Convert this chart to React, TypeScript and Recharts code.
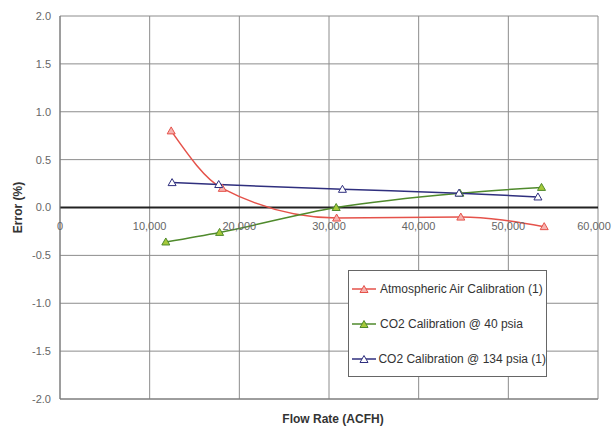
import React from 'react';
import { LineChart, Line, XAxis, YAxis, CartesianGrid, ReferenceLine, Legend, Label } from 'recharts';

const xTicks = [0, 10000, 20000, 30000, 40000, 50000, 60000];
const yTicks = [-2, -1.5, -1, -0.5, 0, 0.5, 1, 1.5, 2];

const airFlow = [12400, 18100, 30850, 44700, 54000];
const airError = [0.8, 0.2, -0.11, -0.1, -0.2];
const co2LowFlow = [11800, 17800, 30800, 44600, 53700];
const co2LowError = [-0.36, -0.26, 0.0, 0.15, 0.21];
const co2HighFlow = [12500, 17700, 31500, 44500, 53300];
const co2HighError = [0.26, 0.24, 0.19, 0.15, 0.11];

const seriesNames = [
  'Atmospheric Air Calibration (1)',
  'CO2 Calibration @ 40 psia',
  'CO2 Calibration @ 134 psia (1)',
];

const toPoints = (xs: number[], ys: number[]) => xs.map((x, i) => ({ flow: x, error: ys[i] }));

const series = [
  { name: seriesNames[0], data: toPoints(airFlow, airError), stroke: '#e5524a', fill: '#f7b3b0' },
  { name: seriesNames[1], data: toPoints(co2LowFlow, co2LowError), stroke: '#4f8a2c', fill: '#a6c93a' },
  { name: seriesNames[2], data: toPoints(co2HighFlow, co2HighError), stroke: '#2f2f7e', fill: '#ffffff' },
];

const W = 614;
const H = 426;
const TOP = 16;
const X_AXIS_H = 27;
const ZERO_Y = TOP + (H - TOP - X_AXIS_H) / 2;
const FONT = '"Liberation Sans", Arial, sans-serif';

function triangle(cx: number, cy: number) {
  return `M${cx},${cy - 4} L${cx + 4},${cy + 3} L${cx - 4},${cy + 3} Z`;
}

const makeDot = (stroke: string, fill: string) => (props: any) => {
  const { cx, cy, index } = props;
  if (cx == null || cy == null) return <g key={index} />;
  return <path key={index} d={triangle(cx, cy)} stroke={stroke} strokeWidth={1} fill={fill} />;
};

const XTick = (props: any) => {
  const { x, payload } = props;
  return (
    <text x={x} y={ZERO_Y + 19} dy="0.35em" textAnchor="middle" fill="#666" fontSize={11} fontFamily={FONT}>
      {Number(payload.value).toLocaleString('en-US')}
    </text>
  );
};

const LegendBox = () => (
  <div
    style={{
      border: '1px solid #666',
      background: '#fff',
      fontFamily: FONT,
      fontSize: 12,
      color: '#333',
      boxSizing: 'border-box',
      width: '100%',
      height: '100%',
      paddingTop: 0,
    }}
  >
    {series.map((s) => (
      <div key={s.name} style={{ height: 35, display: 'flex', alignItems: 'center' }}>
        <svg width={28} height={12} style={{ marginLeft: 3 }}>
          <line x1={0} y1={6} x2={24} y2={6} stroke={s.stroke} strokeWidth={1.5} />
          <path d={triangle(12, 6.5)} stroke={s.stroke} fill={s.fill} />
        </svg>
        <span style={{ whiteSpace: 'nowrap' }}>{s.name}</span>
      </div>
    ))}
  </div>
);

export default function App() {
  return (
    <div style={{ position: 'absolute', left: 0, top: 0, background: '#fff' }}>
      <LineChart width={W} height={H} margin={{ top: TOP, right: 16, bottom: 0, left: 0 }}>
        <CartesianGrid stroke="#8c8c8c" strokeWidth={1} />
        <XAxis
          dataKey="flow"
          type="number"
          domain={[0, 60000]}
          ticks={xTicks}
          height={X_AXIS_H}
          axisLine={{ stroke: '#777' }}
          tickLine={false}
          tick={<XTick />}
          allowDuplicatedCategory={false}
        >
          <Label
            content={(p: any) => {
              const vb = p.viewBox;
              return (
                <text
                  x={vb.x + vb.width / 2 + 4}
                  y={419}
                  dy="0.35em"
                  textAnchor="middle"
                  fontFamily={FONT}
                  fontSize={12}
                  fontWeight="bold"
                  fill="#333"
                >
                  Flow Rate (ACFH)
                </text>
              );
            }}
          />
        </XAxis>
        <YAxis
          type="number"
          domain={[-2, 2]}
          ticks={yTicks}
          width={60}
          axisLine={{ stroke: '#777' }}
          tickLine={false}
          tickSize={6}
          tickMargin={3}
          tick={{ fill: '#666', fontSize: 11, fontFamily: FONT }}
          tickFormatter={(v) => Number(v).toFixed(1)}
        >
          <Label
            content={(p: any) => {
              const vb = p.viewBox;
              const cx = vb.x + 18;
              const cy = vb.y + vb.height / 2;
              return (
                <text
                  x={cx}
                  y={cy}
                  dy="0.35em"
                  textAnchor="middle"
                  transform={`rotate(-90, ${cx}, ${cy})`}
                  fontFamily={FONT}
                  fontSize={12}
                  fontWeight="bold"
                  fill="#333"
                >
                  Error (%)
                </text>
              );
            }}
          />
        </YAxis>
        <ReferenceLine y={0} stroke="#222" strokeWidth={2} />
        {series.map((s) => (
          <Line
            key={s.name}
            name={s.name}
            data={s.data}
            dataKey="error"
            type="monotone"
            stroke={s.stroke}
            strokeWidth={1.5}
            dot={makeDot(s.stroke, s.fill)}
            activeDot={false}
            isAnimationActive={false}
          />
        ))}
        <Legend
          layout="vertical"
          align="center"
          verticalAlign="middle"
          content={<LegendBox />}
          wrapperStyle={{ position: 'absolute', left: 348, top: 270, width: 199, height: 107 }}
        />
      </LineChart>
    </div>
  );
}
